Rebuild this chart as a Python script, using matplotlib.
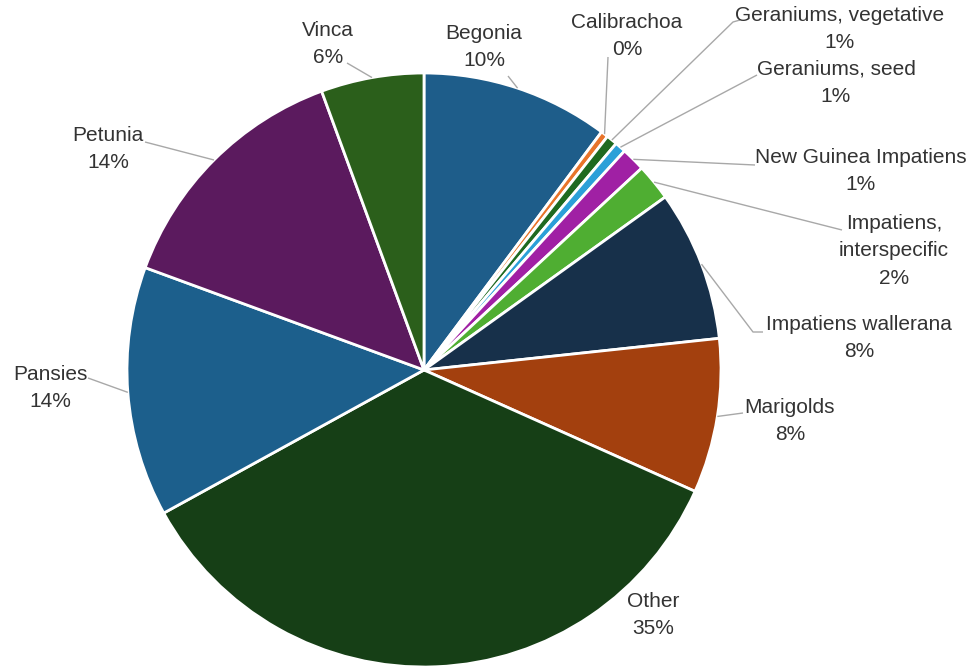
import numpy as np
import matplotlib
matplotlib.use("Agg")
import matplotlib.pyplot as plt

# ---- data ----
categories = ["Begonia", "Calibrachoa", "Geraniums, vegetative", "Geraniums, seed",
              "New Guinea Impatiens", "Impatiens,\ninterspecific", "Impatiens wallerana",
              "Marigolds", "Other", "Pansies", "Petunia", "Vinca"]
shares = [10.2, 0.4, 0.6, 0.6, 1.3, 2.0, 8.2, 8.4, 35.3, 13.6, 13.8, 5.6]
colors = ["#1e5d8a", "#e8742a", "#1f6a20", "#2ba0d8", "#a020a4", "#4fae32",
          "#17304a", "#a3400e", "#163f16", "#1c5f8c", "#5b1a5e", "#2b5f1b"]

W, H = 979, 668
fig = plt.figure(figsize=(W / 100, H / 100), dpi=100)
ax = fig.add_axes([0, 0, 1, 1])

cx, cy, R = 424, H - 370, 297
wedges, _ = ax.pie(shares, colors=colors, startangle=90, counterclock=False,
                   center=(cx, cy), radius=R, frame=True,
                   wedgeprops=dict(edgecolor="white", linewidth=2))
ax.set_xlim(0, W)
ax.set_ylim(0, H)
ax.set_aspect("equal")
ax.axis("off")

# label layout (pixel coords, y from top): text centre, leader end point(s)
layout = [
    ((484, 47), [(508, 76)]),
    ((627, 36), [(608, 57)]),
    ((840, 29), [(733, 22), (740, 20)]),
    ((836, 83), [(757, 75)]),
    ((861, 171), [(755, 165)]),
    ((894, 251), [(842, 230)]),
    ((859, 338), [(753, 332), (763, 332)]),
    ((790, 421), [(743, 413)]),
    ((653, 615), []),
    ((50, 388), [(88, 378)]),
    ((108, 149), [(145, 142)]),
    ((328, 44), [(347, 63)]),
]

font = ["Liberation Sans", "DejaVu Sans"]
for w, name, val, ((tx, ty), pts) in zip(wedges, categories, shares, layout):
    text = f"{name}\n{round(val):d}%"
    ax.text(tx, H - ty, text, ha="center", va="center", fontsize=15,
            family=font, color="#333333", linespacing=1.55)
    if pts:
        ang = np.deg2rad((w.theta1 + w.theta2) / 2)
        sx, sy = cx + R * np.cos(ang), cy + R * np.sin(ang)
        xs = [sx] + [p[0] for p in pts]
        ys = [sy] + [H - p[1] for p in pts]
        ax.plot(xs, ys, color="#a8a8a8", lw=1, solid_capstyle="butt")

fig.savefig("out.png", dpi=100)
